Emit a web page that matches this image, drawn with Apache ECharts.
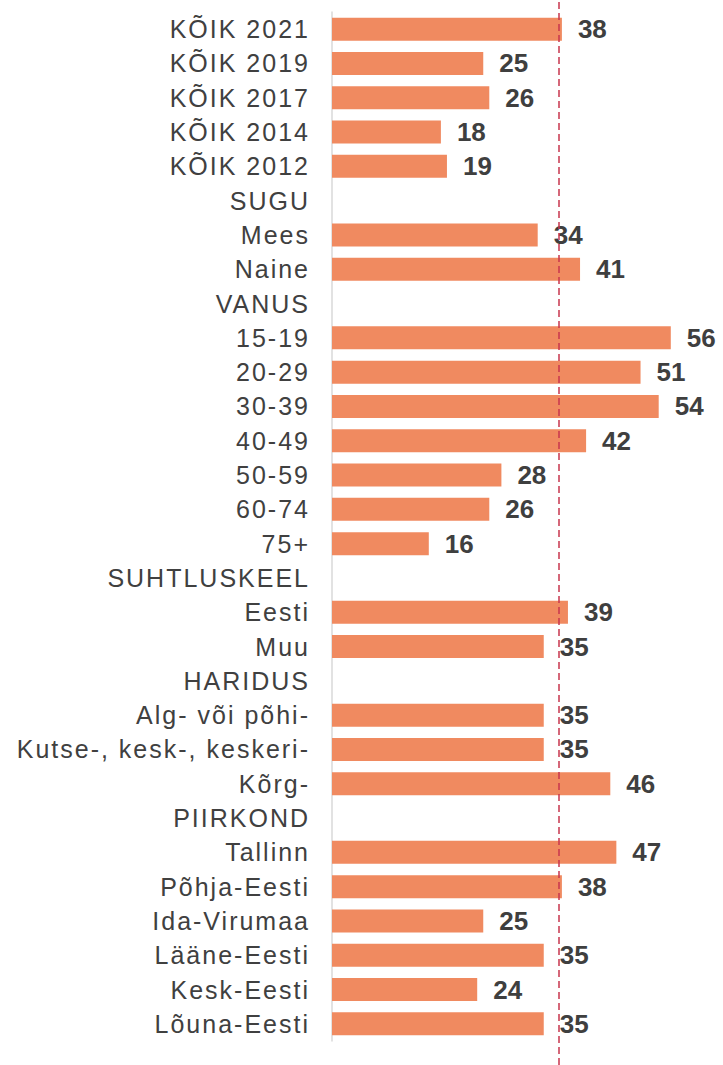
<!DOCTYPE html>
<html>
<head>
<meta charset="utf-8">
<script src="https://cdn.jsdelivr.net/npm/echarts@6/dist/echarts.min.js"></script>
<style>
  html, body { margin: 0; padding: 0; background: #fff; }
  #chart { width: 723px; height: 1065px; }
  /* kategooria siltidel hõredam kiri nagu originaalis */
  #chart text[fill="#404040"] { letter-spacing: 2px; }
</style>
</head>
<body>
<div id="chart"></div>
<script>
// kategooriad ülevalt alla
var categories = [
  'KÕIK 2021', 'KÕIK 2019', 'KÕIK 2017', 'KÕIK 2014', 'KÕIK 2012',
  'SUGU', 'Mees', 'Naine',
  'VANUS', '15-19', '20-29', '30-39', '40-49', '50-59', '60-74', '75+',
  'SUHTLUSKEEL', 'Eesti', 'Muu',
  'HARIDUS', 'Alg- või põhi-', 'Kutse-, kesk-, keskeri-', 'Kõrg-',
  'PIIRKOND', 'Tallinn', 'Põhja-Eesti', 'Ida-Virumaa', 'Lääne-Eesti', 'Kesk-Eesti', 'Lõuna-Eesti'
]
// väärtused (%), vaherubriikidel puudub
var values = [
  38, 25, 26, 18, 19,
  null, 34, 41,
  null, 56, 51, 54, 42, 28, 26, 16,
  null, 39, 35,
  null, 35, 35, 46,
  null, 47, 38, 25, 35, 24, 35
]
// keskmine (KÕIK 2021)
var average = 37.5
var xMax = 60

var chart = echarts.init(document.getElementById('chart'), null, { renderer: 'svg' })
chart.setOption({
  animation: false,
  grid: [
    { left: 332, top: 12, width: 363, height: 1029 },
    { left: 332, top: 0, width: 363, height: 1065 }
  ],
  xAxis: [
    { type: 'value', min: 0, max: xMax, show: false, gridIndex: 0 },
    { type: 'value', min: 0, max: xMax, show: false, gridIndex: 1 }
  ],
  yAxis: [{
    type: 'category',
    gridIndex: 0,
    inverse: true,
    data: categories,
    axisLine: { show: true, lineStyle: { color: '#d9d9d9', width: 1.5 } },
    axisTick: { show: false },
    axisLabel: {
      interval: 0,
      margin: 22,
      color: '#404040',
      fontFamily: 'Liberation Sans',
      fontSize: 25
    }
  }, {
    type: 'category',
    gridIndex: 1,
    show: false,
    data: ['a']
  }],
  series: [{
    type: 'bar',
    xAxisIndex: 0,
    yAxisIndex: 0,
    data: values,
    barWidth: 23,
    itemStyle: { color: '#f08a60' },
    label: {
      show: true,
      position: 'right',
      distance: 16,
      color: '#3f3f3f',
      fontFamily: 'Liberation Sans',
      fontWeight: 'bold',
      fontSize: 26
    }
  }, {
    // katkendjoon keskmise juures
    type: 'line',
    xAxisIndex: 1,
    yAxisIndex: 1,
    data: [],
    silent: true,
    markLine: {
      symbol: 'none',
      label: { show: false },
      lineStyle: { color: '#c8364e', type: [7, 4], width: 1.5 },
      data: [{ xAxis: average }]
    }
  }]
})
</script>
</body>
</html>
